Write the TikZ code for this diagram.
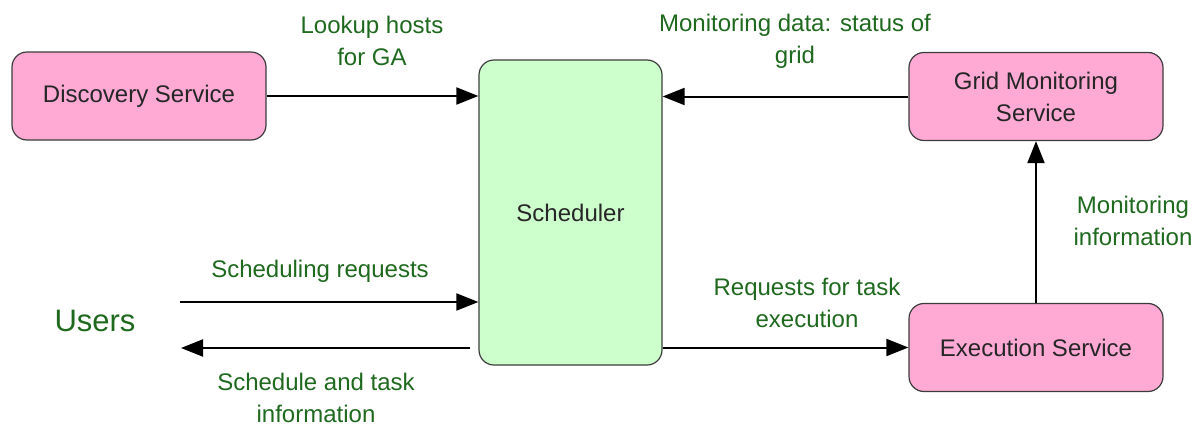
\documentclass[tikz,border=0pt]{standalone}
\usepackage{fontspec}
\setmainfont{Liberation Sans}
\usetikzlibrary{arrows.meta}
\definecolor{boxpink}{RGB}{255,170,212}
\definecolor{boxgreen}{RGB}{204,255,204}
\definecolor{labelgreen}{RGB}{30,105,30}
\definecolor{edgegray}{RGB}{60,60,60}
\tikzset{
  service/.style={draw=edgegray, line width=1.2pt, rounded corners=15pt, fill=boxpink,
    minimum width=254pt, minimum height=88pt, align=center, inner sep=0pt,
    font=\fontsize{24}{32}\selectfont, text=black!85},
  core/.style={draw=edgegray, line width=1.2pt, rounded corners=15pt, fill=boxgreen,
    minimum width=183pt, minimum height=305pt, align=center, inner sep=0pt,
    font=\fontsize{24}{32}\selectfont, text=black!85},
  lbl/.style={text=labelgreen, align=center, inner sep=0pt,
    font=\fontsize{24}{32}\selectfont},
  flow/.style={line width=2pt, -{Triangle[length=22pt,width=17pt]}},
}
\begin{document}
\begin{tikzpicture}[x=1pt,y=-1pt]
  \useasboundingbox (0,0) rectangle (1203,426);

  % boxes
  \node[service] (disc) at (139,96) {Discovery Service};
  \node[core] (sched) at (570.5,212.5) {Scheduler};
  \node[service] (grid) at (1036,96.5) {Grid Monitoring\\Service};
  \node[service] (exec) at (1036,347.5) {Execution Service};

  % free ends on the users side
  \coordinate (reqstart) at (180,302);
  \coordinate (retstart) at (470,348);
  \coordinate (retend) at (181,348);

  % connectors
  \draw[flow] (disc.east) -- (sched.west |- disc.east);
  \draw[flow] (grid.west) -- (sched.east |- grid.west);
  \draw[flow] (reqstart) -- (sched.west |- reqstart);
  \draw[flow] (retstart) -- (retend);
  \draw[flow] (sched.east |- exec.west) -- (exec.west);
  \draw[flow] (exec.north) -- (grid.south);

  % labels
  \node[lbl] (lookup) at (372,41) {Lookup hosts\\for GA};
  \node[lbl] (mondata) at (795,41) {Monitoring data: status of\\grid};
  \node[lbl] (moninfo) at (1133,221) {Monitoring\\information};
  \node[lbl] (schedreq) at (320,271) {Scheduling requests};
  \node[lbl, font=\fontsize{31}{36}\selectfont] (users) at (95,321) {Users};
  \node[lbl] (taskreq) at (807,303) {Requests for task\\execution};
  \node[lbl] (schedinfo) at (316,398) {Schedule and task\\information};
\end{tikzpicture}
\end{document}
